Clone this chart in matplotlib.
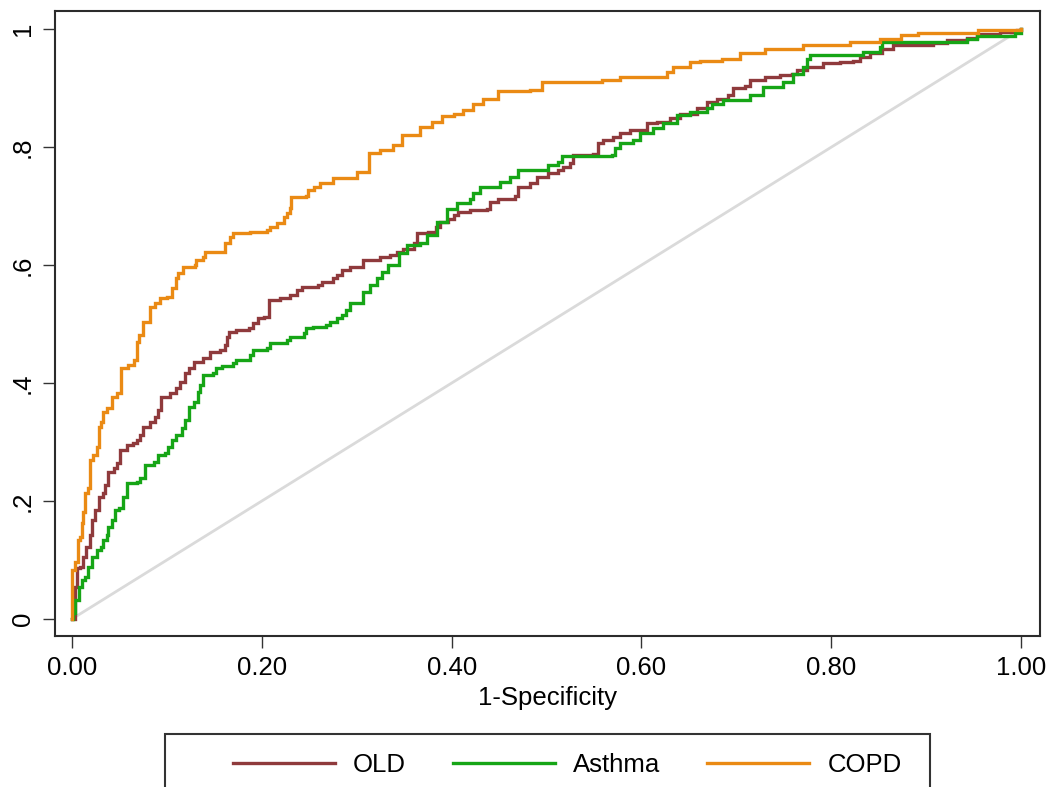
import matplotlib
matplotlib.use("Agg")
import matplotlib.pyplot as plt
from matplotlib.lines import Line2D
from matplotlib.patches import Rectangle

plt.rcParams["font.family"] = ["Liberation Sans", "DejaVu Sans"]
plt.rcParams["font.size"] = 18.5

# ROC curve vertices (false positive rate, true positive rate)
old_fpr = [0.000, 0.003, 0.005, 0.008, 0.012, 0.015, 0.019, 0.021, 0.024, 0.028,
           0.033, 0.035, 0.038, 0.044, 0.047, 0.051, 0.058, 0.064, 0.068, 0.072,
           0.075, 0.082, 0.087, 0.091, 0.094, 0.103, 0.109, 0.114, 0.119, 0.123,
           0.128, 0.138, 0.145, 0.156, 0.161, 0.163, 0.165, 0.173, 0.186, 0.191,
           0.196, 0.202, 0.207, 0.219, 0.230, 0.237, 0.242, 0.259, 0.263, 0.275,
           0.279, 0.284, 0.293, 0.307, 0.325, 0.335, 0.342, 0.349, 0.360, 0.364,
           0.375, 0.383, 0.388, 0.396, 0.402, 0.407, 0.419, 0.437, 0.440, 0.449,
           0.467, 0.470, 0.483, 0.490, 0.502, 0.512, 0.517, 0.525, 0.528, 0.549,
           0.554, 0.560, 0.570, 0.577, 0.588, 0.606, 0.616, 0.630, 0.641, 0.659,
           0.669, 0.680, 0.691, 0.697, 0.709, 0.714, 0.730, 0.746, 0.759, 0.764,
           0.774, 0.791, 0.809, 0.823, 0.830, 0.841, 0.854, 0.865, 0.907, 0.922,
           0.943, 0.954, 0.978, 0.996, 1.000]
old_tpr = [0.000, 0.054, 0.086, 0.088, 0.105, 0.122, 0.142, 0.168, 0.185, 0.207,
           0.213, 0.227, 0.249, 0.256, 0.264, 0.286, 0.295, 0.298, 0.303, 0.312,
           0.325, 0.334, 0.342, 0.354, 0.376, 0.383, 0.392, 0.402, 0.417, 0.425,
           0.436, 0.442, 0.453, 0.456, 0.464, 0.478, 0.486, 0.490, 0.493, 0.502,
           0.510, 0.512, 0.541, 0.544, 0.549, 0.558, 0.563, 0.566, 0.571, 0.578,
           0.583, 0.592, 0.597, 0.608, 0.614, 0.617, 0.622, 0.628, 0.637, 0.654,
           0.656, 0.665, 0.673, 0.679, 0.685, 0.690, 0.693, 0.696, 0.707, 0.713,
           0.718, 0.732, 0.739, 0.749, 0.756, 0.761, 0.766, 0.773, 0.786, 0.788,
           0.807, 0.812, 0.817, 0.824, 0.829, 0.841, 0.842, 0.849, 0.857, 0.866,
           0.876, 0.881, 0.888, 0.900, 0.903, 0.914, 0.919, 0.922, 0.925, 0.931,
           0.936, 0.942, 0.944, 0.947, 0.953, 0.959, 0.967, 0.973, 0.976, 0.981,
           0.986, 0.992, 0.995, 0.998, 1.000]

asthma_fpr = [0.000, 0.001, 0.003, 0.007, 0.010, 0.014, 0.017, 0.021, 0.026, 0.030,
              0.033, 0.037, 0.038, 0.042, 0.045, 0.049, 0.054, 0.058, 0.068, 0.072,
              0.077, 0.086, 0.091, 0.098, 0.101, 0.105, 0.110, 0.116, 0.119, 0.123,
              0.128, 0.133, 0.135, 0.138, 0.149, 0.152, 0.158, 0.170, 0.173, 0.188,
              0.191, 0.205, 0.209, 0.226, 0.230, 0.244, 0.246, 0.254, 0.268, 0.272,
              0.279, 0.284, 0.289, 0.293, 0.307, 0.314, 0.321, 0.327, 0.333, 0.344,
              0.353, 0.367, 0.374, 0.385, 0.395, 0.406, 0.419, 0.422, 0.430, 0.451,
              0.462, 0.470, 0.502, 0.512, 0.516, 0.569, 0.572, 0.577, 0.591, 0.599,
              0.612, 0.623, 0.637, 0.651, 0.669, 0.674, 0.686, 0.714, 0.728, 0.749,
              0.760, 0.770, 0.774, 0.778, 0.834, 0.851, 0.854, 0.943, 0.954, 0.994,
              1.000]
asthma_tpr = [0.000, 0.010, 0.032, 0.054, 0.066, 0.071, 0.088, 0.105, 0.117, 0.122,
              0.134, 0.142, 0.156, 0.168, 0.185, 0.188, 0.207, 0.230, 0.232, 0.239,
              0.261, 0.266, 0.278, 0.281, 0.292, 0.303, 0.312, 0.324, 0.337, 0.359,
              0.368, 0.385, 0.397, 0.414, 0.417, 0.425, 0.429, 0.434, 0.439, 0.447,
              0.456, 0.459, 0.468, 0.473, 0.478, 0.485, 0.493, 0.495, 0.498, 0.503,
              0.510, 0.515, 0.524, 0.535, 0.554, 0.566, 0.578, 0.588, 0.600, 0.620,
              0.634, 0.637, 0.651, 0.673, 0.696, 0.705, 0.713, 0.722, 0.732, 0.741,
              0.749, 0.761, 0.769, 0.775, 0.785, 0.786, 0.798, 0.807, 0.812, 0.824,
              0.832, 0.841, 0.854, 0.859, 0.866, 0.874, 0.880, 0.888, 0.902, 0.910,
              0.925, 0.936, 0.949, 0.956, 0.961, 0.970, 0.978, 0.983, 0.988, 0.993,
              1.000]

copd_fpr = [0.000, 0.000, 0.003, 0.006, 0.008, 0.010, 0.012, 0.014, 0.017, 0.019,
            0.022, 0.026, 0.028, 0.030, 0.033, 0.037, 0.042, 0.047, 0.052, 0.059,
            0.065, 0.068, 0.070, 0.075, 0.082, 0.087, 0.093, 0.100, 0.105, 0.110,
            0.112, 0.117, 0.130, 0.131, 0.138, 0.140, 0.161, 0.166, 0.170, 0.188,
            0.205, 0.209, 0.216, 0.223, 0.226, 0.230, 0.231, 0.246, 0.249, 0.255,
            0.261, 0.275, 0.300, 0.313, 0.325, 0.338, 0.348, 0.367, 0.379, 0.390,
            0.402, 0.412, 0.423, 0.433, 0.449, 0.483, 0.495, 0.558, 0.577, 0.627,
            0.633, 0.651, 0.662, 0.685, 0.704, 0.730, 0.770, 0.820, 0.851, 0.874,
            0.891, 0.955, 1.000]
copd_tpr = [0.000, 0.083, 0.097, 0.134, 0.139, 0.163, 0.181, 0.213, 0.222, 0.269,
            0.278, 0.292, 0.325, 0.334, 0.351, 0.358, 0.376, 0.383, 0.425, 0.430,
            0.439, 0.470, 0.481, 0.504, 0.529, 0.535, 0.544, 0.546, 0.561, 0.578,
            0.586, 0.597, 0.600, 0.608, 0.614, 0.622, 0.637, 0.648, 0.654, 0.656,
            0.659, 0.664, 0.671, 0.681, 0.688, 0.697, 0.715, 0.718, 0.727, 0.732,
            0.739, 0.747, 0.758, 0.790, 0.795, 0.803, 0.820, 0.834, 0.842, 0.853,
            0.857, 0.863, 0.874, 0.882, 0.895, 0.897, 0.910, 0.914, 0.919, 0.927,
            0.936, 0.944, 0.947, 0.950, 0.959, 0.967, 0.973, 0.978, 0.984, 0.990,
            0.994, 0.998, 1.000]

series_labels = ["OLD", "Asthma", "COPD"]
series_colors = ["#8f3a3c", "#16a516", "#ea8a14"]
reference_line = [0.0, 1.0]

x_ticks = [0.0, 0.2, 0.4, 0.6, 0.8, 1.0]
x_ticklabels = ["0.00", "0.20", "0.40", "0.60", "0.80", "1.00"]
y_ticks = [0.0, 0.2, 0.4, 0.6, 0.8, 1.0]
y_ticklabels = ["0", ".2", ".4", ".6", ".8", "1"]

W, H = 1054, 787
fig = plt.figure(figsize=(W / 100, H / 100), dpi=100)
ax = fig.add_axes([55 / W, 1 - 636 / H, (1040 - 55) / W, (636 - 11) / H])

ax.plot(reference_line, reference_line, color="#dadada", lw=2.0, zorder=1)
curves = [(old_fpr, old_tpr), (asthma_fpr, asthma_tpr), (copd_fpr, copd_tpr)]
for (fx, ty), lab, col in zip(curves, series_labels, series_colors):
    ax.plot(fx, ty, drawstyle="steps-post", color=col, lw=2.4, label=lab,
            solid_joinstyle="miter", zorder=2)

ax.set_xlim(-0.018, 1.02)
ax.set_ylim(-0.029, 1.031)
ax.set_xticks(x_ticks)
ax.set_xticklabels(x_ticklabels)
ax.set_yticks(y_ticks)
ax.set_yticklabels(y_ticklabels, rotation=90, va="center")
ax.tick_params(direction="out", length=8.5, width=1.0, color="#333333",
               pad=6, labelsize=18.5)
ax.set_xlabel("1-Specificity", fontsize=18.5, labelpad=4)
for sp in ax.spines.values():
    sp.set_linewidth(1.5)
    sp.set_color("#2b2b2b")

handles = [Line2D([0], [0], color=c, lw=2.4) for c in series_colors]
fig.legend(handles, series_labels, loc="center left",
           bbox_to_anchor=(233 / W, 1 - 765 / H), ncol=3, frameon=False,
           borderpad=0, borderaxespad=0, handlelength=3.97,
           handletextpad=0.7, columnspacing=1.83, fontsize=18.5)
fig.add_artist(Rectangle((165 / W, -0.1), (930 - 165) / W, (1 - 734 / H) + 0.1,
                         transform=fig.transFigure, fill=False, lw=1.5,
                         edgecolor="#333333"))

fig.savefig("out.png", dpi=100, facecolor="white")
